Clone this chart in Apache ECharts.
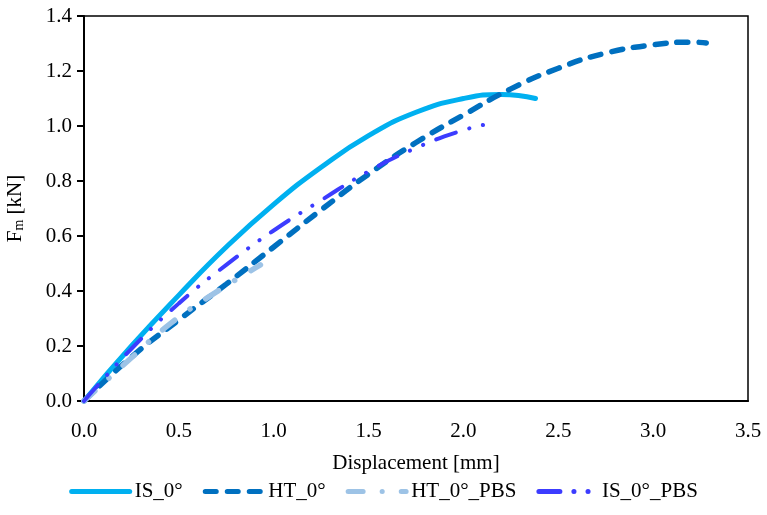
<!DOCTYPE html>
<html>
<head>
<meta charset="utf-8">
<script src="https://cdn.jsdelivr.net/npm/echarts@6/dist/echarts.min.js"></script>
<style>
html, body { margin: 0; padding: 0; background: #fff; }
#chart { width: 767px; height: 515px; }
</style>
</head>
<body>
<div id="chart"></div>
<script>
var seriesNames = ['IS_0°', 'HT_0°', 'HT_0°_PBS', 'IS_0°_PBS'];

var isX = [0, 0.25, 0.5, 0.75, 1.0, 1.25, 1.5, 1.75, 2.0, 2.2, 2.38];
var isY = [0, 0.2, 0.385, 0.56, 0.715, 0.85, 0.965, 1.05, 1.1, 1.115, 1.1];

var htX = [0, 0.25, 0.5, 0.75, 1.0, 1.25, 1.5, 1.75, 2.0, 2.25, 2.5, 2.75, 3.0, 3.2, 3.28];
var htY = [0, 0.16, 0.295, 0.425, 0.56, 0.695, 0.825, 0.94, 1.04, 1.135, 1.21, 1.265, 1.295, 1.305, 1.302];

var htPbsX = [0, 0.25, 0.46, 0.69, 0.93];
var htPbsY = [0, 0.157, 0.284, 0.393, 0.495];

var isPbsX = [0, 0.25, 0.5, 0.75, 1.0, 1.25, 1.5, 1.75, 2.0, 2.15];
var isPbsY = [0, 0.19, 0.355, 0.495, 0.62, 0.73, 0.835, 0.92, 0.985, 1.01];

var xTicks = [0, 0.5, 1.0, 1.5, 2.0, 2.5, 3.0, 3.5];
var yTicks = [0, 0.2, 0.4, 0.6, 0.8, 1.0, 1.2, 1.4];

function pairs(xs, ys) {
    return xs.map(function (x, i) { return [x, ys[i]]; });
}

var font = 'Liberation Serif';
var chart = echarts.init(document.getElementById('chart'));

function lineSeries(name, data, color, width, dash) {
    return {
        name: name,
        type: 'line',
        data: data,
        smooth: 0.5,
        symbol: 'none',
        showSymbol: false,
        lineStyle: { color: color, width: width, type: dash, cap: 'round' },
        itemStyle: { color: color }
    };
}

var option = {
    backgroundColor: '#fff',
    animation: false,
    grid: {
        left: 84, right: 19, top: 16, bottom: 114,
        outerBoundsMode: 'none',
        show: true, borderColor: '#000', borderWidth: 1.5
    },
    xAxis: {
        type: 'value',
        min: xTicks[0], max: xTicks[xTicks.length - 1], interval: 0.5,
        name: 'Displacement [mm]',
        nameLocation: 'middle',
        nameGap: 52,
        nameTextStyle: { fontFamily: font, fontSize: 21, color: '#000' },
        axisLine: { lineStyle: { color: '#000', width: 2 } },
        axisTick: { show: false },
        splitLine: { show: false },
        axisLabel: {
            fontFamily: font, fontSize: 21, color: '#000', margin: 20,
            formatter: function (v) { return v.toFixed(1); }
        }
    },
    yAxis: {
        type: 'value',
        min: yTicks[0], max: yTicks[yTicks.length - 1], interval: 0.2,
        name: '{a|F}{s|m}{a| [kN]}',
        nameLocation: 'middle',
        nameGap: 58,
        nameTextStyle: {
            rich: {
                a: { fontFamily: font, fontSize: 21, color: '#000' },
                s: { fontFamily: font, fontSize: 14, color: '#000', verticalAlign: 'bottom', padding: [8, 0, 0, 0] }
            }
        },
        axisLine: { show: true, lineStyle: { color: '#000', width: 2 } },
        axisTick: { show: true, inside: false, length: 7, lineStyle: { color: '#000', width: 2 } },
        splitLine: { show: false },
        axisLabel: {
            fontFamily: font, fontSize: 21, color: '#000', margin: 12,
            formatter: function (v) { return v.toFixed(1); }
        }
    },
    legend: {
        bottom: 8,
        left: 'center',
        itemWidth: 58,
        itemHeight: 14,
        itemGap: 20,
        itemStyle: { opacity: 0 },
        lineStyle: { width: 5, cap: 'round' },
        textStyle: { fontFamily: font, fontSize: 21, color: '#000' },
        data: seriesNames
    },
    series: [
        lineSeries(seriesNames[0], pairs(isX, isY), '#00B0F0', 5, 'solid'),
        lineSeries(seriesNames[1], pairs(htX, htY), '#0070C0', 5.5, [11, 11]),
        lineSeries(seriesNames[2], pairs(htPbsX, htPbsY), '#9DC3E6', 5.5, [15, 19, 0.1, 19]),
        lineSeries(seriesNames[3], pairs(isPbsX, isPbsY), '#3C3CFF', 4, [21, 14, 0.1, 14, 0.1, 14])
    ]
};
chart.setOption(option);
</script>
</body>
</html>
